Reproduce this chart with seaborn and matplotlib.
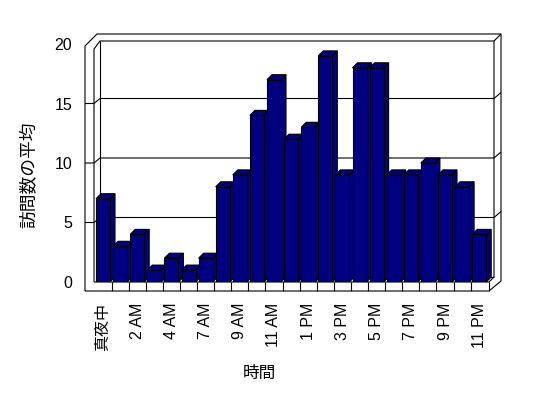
import matplotlib
matplotlib.use("Agg")
import matplotlib.pyplot as plt
import seaborn as sns
import pandas as pd
from matplotlib.patches import Polygon

categories = ["真夜中", "1 AM", "2 AM", "3 AM", "4 AM", "6 AM", "7 AM", "8 AM",
              "9 AM", "10 AM", "11 AM", "正午", "1 PM", "2 PM", "3 PM", "4 PM",
              "5 PM", "6 PM", "7 PM", "8 PM", "9 PM", "10 PM", "11 PM"]
values = [7, 3, 4, 1, 2, 1, 2, 8, 9, 14, 17, 12, 13, 19, 9, 18, 18, 9, 9, 10, 9, 8, 4]
y_ticks = [0, 5, 10, 15, 20]
y_label = "訪問数の平均"
x_label = "時間"

sns.set_theme(style="white")
plt.rcParams["font.family"] = ["Liberation Sans", "Noto Sans CJK JP"]

W, H = 548, 398
fig = plt.figure(figsize=(W / 100, H / 100), dpi=100)
fig.patch.set_facecolor("white")

# front plane geometry (pixels)
X0 = 94.45
PITCH = 17.1
Y0 = 282.0
PXU = 11.9
n = len(categories)
ax = fig.add_axes([X0 / W, (H - Y0) / H, n * PITCH / W, 20 * PXU / H])

df = pd.DataFrame({"cat": categories, "val": values})
sns.barplot(data=df, x="cat", y="val", order=categories, color="#000080",
            saturation=1, edgecolor="black", linewidth=0.8, width=14 / PITCH, ax=ax)
ax.set_xlim(-0.5, n - 0.5)
ax.set_ylim(0, 20)
for s in ax.spines.values():
    s.set_visible(False)
ax.set_facecolor("none")


def P(px, py):
    return ((px - X0) / PITCH - 0.5, (Y0 - py) / PXU)


def line(pts, z=1.0, lw=0.8):
    d = [P(*p) for p in pts]
    ax.plot([a for a, b in d], [b for a, b in d], color="black", lw=lw,
            solid_capstyle="butt", clip_on=False, zorder=z)


# 3D bars: side and top faces
bdx = 5 / PITCH
bdy = 5 / PXU
for i, patch in enumerate(ax.patches):
    x = patch.get_x()
    w = patch.get_width()
    h = patch.get_height()
    z = 3 + i * 0.01
    side = Polygon([(x + w, 0), (x + w, h), (x + w + bdx, h + bdy), (x + w + bdx, bdy)],
                   closed=True, facecolor="#000080", edgecolor="black", lw=0.8,
                   zorder=z, clip_on=False)
    top = Polygon([(x, h), (x + w, h), (x + w + bdx, h + bdy), (x + bdx, h + bdy)],
                  closed=True, facecolor="#000080", edgecolor="black", lw=0.8,
                  zorder=z, clip_on=False)
    ax.add_patch(side)
    ax.add_patch(top)
    patch.set_zorder(z + 0.005)

# walls and floor
R_in, R_out, F_r = 494, 501, 489
TOP_in, TOP_out = 41, 34
BACK_B = 277
line([(85, 291), (85, 46), (97, TOP_out), (R_out, TOP_out), (R_out, 281), (F_r, 291), (85, 291)])
line([(94, 282), (94, 49), (100, TOP_in), (R_in, TOP_in), (R_in, BACK_B)])
line([(100, TOP_in), (100, BACK_B), (R_in, BACK_B)])
line([(R_in, TOP_in), (R_out, TOP_out)])
line([(94, 282), (F_r, 282), (R_in, BACK_B)])
line([(F_r, 282), (F_r, 291)])
for k in range(1, n):
    xx = X0 + PITCH * k
    line([(xx, 282), (xx, 291)])
for v in y_ticks[1:-1]:
    py = Y0 - PXU * v
    line([(85, py), (94, py), (100, py - 5), (R_in, py - 5), (R_out, py - 11)])

# ticks & labels
ax.set_xticks(range(0, n, 2), labels=categories[::2], rotation=90)
ax.set_yticks(y_ticks, labels=[str(t) for t in y_ticks])
ax.tick_params(axis="x", length=0, pad=15, labelsize=11.5, colors="black")
ax.tick_params(axis="y", length=0, pad=16, labelsize=11.5, colors="black")
ax.set_xlabel(x_label, fontsize=12, color="black")
ax.set_ylabel(y_label, fontsize=12.8, color="black")
ax.xaxis.set_label_coords((259 - X0) / (n * PITCH), (Y0 - 366) / (20 * PXU))
ax.yaxis.set_label_coords((38 - X0) / (n * PITCH), (Y0 - 175) / (20 * PXU))

fig.savefig("out.png", dpi=100, facecolor="white")
